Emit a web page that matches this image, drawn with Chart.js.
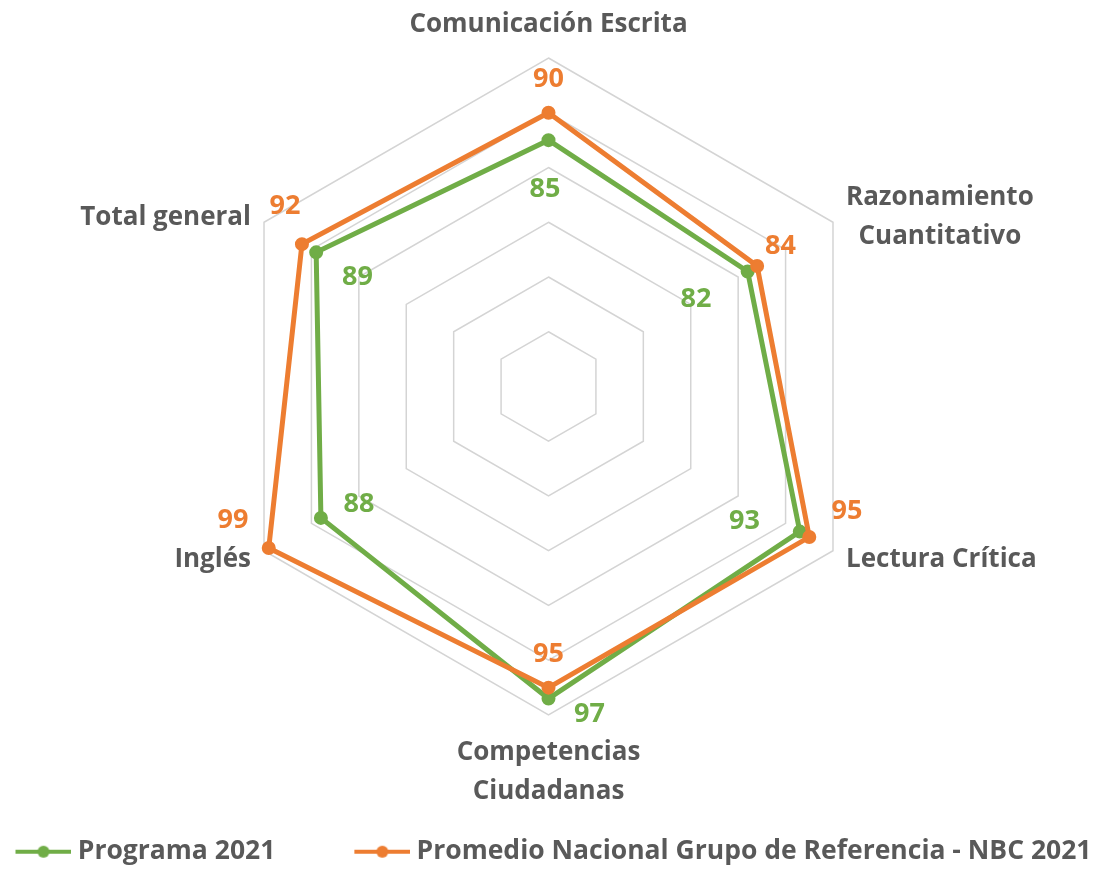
<!DOCTYPE html>
<html>
<head>
<meta charset="utf-8">
<script src="https://cdn.jsdelivr.net/npm/chart.js@4"></script>
<style>
  html, body { margin: 0; padding: 0; background: #ffffff; }
  #wrap { width: 1099px; height: 869px; position: relative; }
</style>
</head>
<body>
<div id="wrap"><canvas id="chart" width="1099" height="869"></canvas></div>
<script>
// ---------- data ----------
const categories = [
  ['Comunicación Escrita'],
  ['Razonamiento', 'Cuantitativo'],
  ['Lectura Crítica'],
  ['Competencias', 'Ciudadanas'],
  ['Inglés'],
  ['Total general']
];
const seriesNames = ['Programa 2021', 'Promedio Nacional Grupo de Referencia - NBC 2021'];
const programa2021 = [85, 82, 93, 97, 88, 89];
const promedioNacional = [90, 84, 95, 95, 99, 92];
const axisMin = 40;
const axisMax = 100;
const axisStep = 10;

// ---------- styles ----------
const GREEN = '#70AD47';
const ORANGE = '#ED7D31';
const TEXT = '#595959';
const GRID = '#D4D4D4';
const FONT = "'Open Sans', Lato, sans-serif";
const CAT_FS = 26;
const VAL_FS = 27;
const LEG_FS = 26.5;

// data label offsets (pixels from each point), per series
const labelOffsets = [
  [[-3.5, 47.4], [-51.6, 25.5], [-55.3, -12.6], [41, 14], [38, -15.4], [41.3, 22.6]],
  [[0, -35], [23.4, -22], [37.7, -28], [0, -35.6], [-35.8, -30], [-17, -40]]
];

function makeMarker(color) {
  const c = document.createElement('canvas');
  c.width = 58; c.height = 14;
  const g = c.getContext('2d');
  g.strokeStyle = color; g.lineWidth = 4;
  g.beginPath(); g.moveTo(2, 7); g.lineTo(58, 7); g.stroke();
  g.fillStyle = color;
  g.beginPath(); g.arc(30, 7, 6, 0, Math.PI * 2); g.fill();
  return c;
}
const markers = [makeMarker(GREEN), makeMarker(ORANGE)];

const categoryLabelPlugin = {
  id: 'categoryLabels',
  afterDraw(chart) {
    const s = chart.scales.r;
    const ctx = chart.ctx;
    ctx.save();
    ctx.font = `bold ${CAT_FS}px ${FONT}`;
    ctx.fillStyle = TEXT;
    ctx.textBaseline = 'alphabetic';
    ctx.textAlign = 'center';
    const capHalf = CAT_FS * 0.357;
    const lineGap = 38.5;
    chart.data.labels.forEach((lines, i) => {
      const p = s.getPointPosition(i, s.drawingArea);
      const ang = s.getIndexAngle(i);
      const sx = Math.sin(ang);
      const up = Math.cos(ang) > 0;
      const n = lines.length;
      const maxW = Math.max(...lines.map(l => ctx.measureText(l).width));
      let cx, firstY;
      if (Math.abs(sx) < 0.1) {
        cx = p.x;
        firstY = up ? p.y - 35 - (n - 1) * lineGap : p.y + 36;
      } else {
        cx = sx > 0 ? p.x + 13 + maxW / 2 : p.x - 13 - maxW / 2;
        const blockCenter = p.y + (up ? -7 : 7);
        firstY = blockCenter - (n - 1) * lineGap / 2;
      }
      lines.forEach((l, k) => ctx.fillText(l, cx, firstY + k * lineGap + capHalf));
    });
    ctx.restore();
  }
};

const valueLabelPlugin = {
  id: 'valueLabels',
  afterDatasetsDraw(chart) {
    const ctx = chart.ctx;
    ctx.save();
    ctx.font = `bold ${VAL_FS}px ${FONT}`;
    ctx.textAlign = 'center';
    ctx.textBaseline = 'alphabetic';
    const capHalf = VAL_FS * 0.357;
    chart.data.datasets.forEach((ds, di) => {
      const meta = chart.getDatasetMeta(di);
      ctx.fillStyle = ds.borderColor;
      meta.data.forEach((pt, i) => {
        const [dx, dy] = labelOffsets[di][i];
        ctx.fillText(String(ds.data[i]), pt.x + dx, pt.y + dy + capHalf);
      });
    });
    ctx.restore();
  }
};

new Chart(document.getElementById('chart'), {
  type: 'radar',
  data: {
    labels: categories,
    datasets: [
      {
        label: seriesNames[0],
        data: programa2021,
        borderColor: GREEN,
        backgroundColor: GREEN,
        pointBackgroundColor: GREEN,
        pointBorderColor: GREEN,
        borderWidth: 5,
        pointRadius: 6,
        pointBorderWidth: 2,
        fill: false,
        tension: 0,
        order: 2
      },
      {
        label: seriesNames[1],
        data: promedioNacional,
        borderColor: ORANGE,
        backgroundColor: ORANGE,
        pointBackgroundColor: ORANGE,
        pointBorderColor: ORANGE,
        borderWidth: 5,
        pointRadius: 6,
        pointBorderWidth: 2,
        fill: false,
        tension: 0,
        order: 1
      }
    ]
  },
  options: {
    responsive: false,
    animation: false,
    layout: { padding: { left: -130, right: -143, top: 0, bottom: -6 } },
    scales: {
      r: {
        min: axisMin,
        max: axisMax,
        ticks: { display: false, stepSize: axisStep },
        grid: { color: GRID, lineWidth: 1.5, circular: false },
        angleLines: { display: false },
        pointLabels: { display: false },
        afterFit(scale) {
          scale.xCenter = 548.5;
          scale.yCenter = 386.5;
          scale.drawingArea = 328.5;
        }
      }
    },
    plugins: {
      tooltip: { enabled: false },
      legend: {
        position: 'bottom',
        align: 'center',
        labels: {
          usePointStyle: true,
          pointStyleWidth: 44,
          padding: 84,
          color: TEXT,
          font: { family: FONT, size: LEG_FS, weight: 'bold' },
          generateLabels(chart) {
            return chart.data.datasets.map((ds, i) => ({
              text: ds.label,
              fillStyle: ds.borderColor,
              strokeStyle: ds.borderColor,
              lineWidth: 0,
              pointStyle: markers[i],
              hidden: false,
              datasetIndex: i,
              fontColor: TEXT
            }));
          }
        }
      }
    }
  },
  plugins: [valueLabelPlugin, categoryLabelPlugin]
});
</script>
</body>
</html>
